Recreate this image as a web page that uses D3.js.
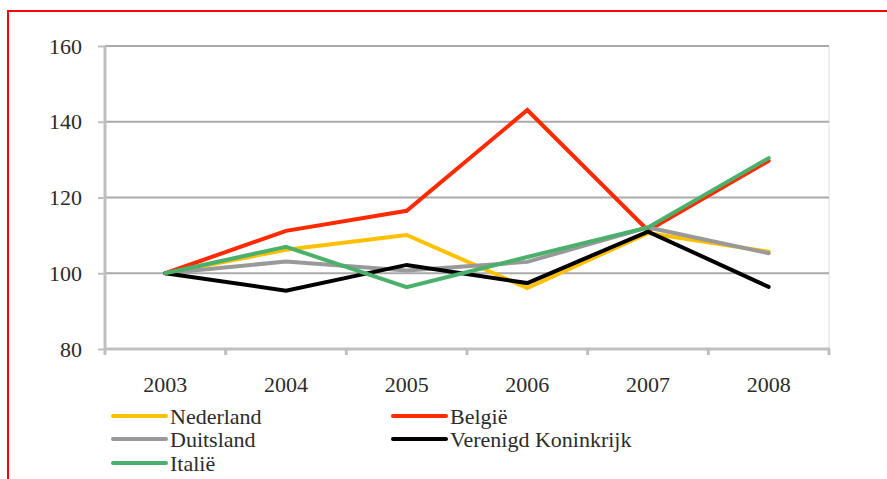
<!DOCTYPE html>
<html>
<head>
<meta charset="utf-8">
<script src="https://cdn.jsdelivr.net/npm/d3@7/dist/d3.min.js"></script>
<style>
  body { margin: 0; background: #fff; }
  svg text { font-family: "Liberation Serif", serif; fill: #2b2b2b; }
</style>
</head>
<body>
<svg id="chartSVG" width="887" height="479"></svg>
<script>
// years on the x axis
const years = ["2003", "2004", "2005", "2006", "2007", "2008"];
// y axis ticks
const yTicks = [80, 100, 120, 140, 160];

// index values per country
const nederland = [100, 106.2, 110.1, 96.1, 110.6, 105.7];
const belgie = [100, 111.2, 116.5, 143.1, 111.3, 129.7];
const duitsland = [100, 103.1, 100.7, 103.0, 112.1, 105.3];
const verenigdKoninkrijk = [100, 95.4, 102.2, 97.4, 111.0, 96.4];
const italie = [100, 107.0, 96.3, 104.3, 112.1, 130.4];

const seriesNames = ["Nederland", "België", "Duitsland", "Verenigd Koninkrijk", "Italië"];
const seriesColors = ["#ffc000", "#ff2a00", "#999999", "#000000", "#4bb06b"];
const seriesValues = [nederland, belgie, duitsland, verenigdKoninkrijk, italie];

// plot area
const plot = { left: 105, right: 829, top: 46, bottom: 349 };
const fontSize = 22;

const svg = d3.select("#chartSVG");

// red frame around the picture (only top and left fall inside)
svg.append("rect")
  .attr("x", 8).attr("y", 11)
  .attr("width", 1000).attr("height", 1000)
  .attr("fill", "none")
  .attr("stroke", "#ff0000")
  .attr("stroke-width", 2);

const x = d3.scaleBand().domain(years).range([plot.left, plot.right]);
const y = d3.scaleLinear().domain([80, 160]).range([plot.bottom, plot.top]);

// right edge of the plot area
svg.append("line")
  .attr("x1", plot.right).attr("x2", plot.right)
  .attr("y1", plot.top).attr("y2", plot.bottom)
  .attr("stroke", "#d9d9d9").attr("stroke-width", 1);

// horizontal gridlines
svg.append("g")
  .selectAll("line")
  .data(yTicks.filter(d => d !== 80))
  .join("line")
  .attr("x1", plot.left).attr("x2", plot.right)
  .attr("y1", d => y(d)).attr("y2", d => y(d))
  .attr("stroke", "#aaaaaa").attr("stroke-width", 2);

// y axis
const yAxis = d3.axisLeft(y).tickValues(yTicks).tickSize(7).tickPadding(16);
const yAxisGroup = svg.append("g")
  .attr("transform", `translate(${plot.left},0)`)
  .call(yAxis);
yAxisGroup.select(".domain").remove();
yAxisGroup.selectAll(".tick line").attr("stroke", "#bfbfbf").attr("stroke-width", 2);
yAxisGroup.selectAll(".tick text")
  .attr("font-size", fontSize)
  .style("font-family", "Liberation Serif")
  .attr("fill", "#2b2b2b");
svg.append("line")
  .attr("x1", plot.left).attr("x2", plot.left)
  .attr("y1", plot.top).attr("y2", plot.bottom + 1)
  .attr("stroke", "#bfbfbf").attr("stroke-width", 3);

// x axis
svg.append("line")
  .attr("x1", plot.left).attr("x2", plot.right + 1)
  .attr("y1", plot.bottom).attr("y2", plot.bottom)
  .attr("stroke", "#bfbfbf").attr("stroke-width", 3);
const boundaries = years.map(d => x(d)).concat([plot.right]);
svg.append("g")
  .selectAll("line")
  .data(boundaries)
  .join("line")
  .attr("x1", d => d).attr("x2", d => d)
  .attr("y1", plot.bottom).attr("y2", plot.bottom + 6)
  .attr("stroke", "#bfbfbf").attr("stroke-width", 3);
svg.append("g")
  .selectAll("text")
  .data(years)
  .join("text")
  .attr("x", d => x(d) + x.bandwidth() / 2)
  .attr("y", 392)
  .attr("text-anchor", "middle")
  .attr("font-size", fontSize)
  .text(d => d);

// lines
const line = d3.line()
  .x((d, i) => x(years[i]) + x.bandwidth() / 2)
  .y(d => y(d));

svg.append("g")
  .selectAll("path")
  .data(seriesValues)
  .join("path")
  .attr("d", d => line(d))
  .attr("fill", "none")
  .attr("stroke", (d, i) => seriesColors[i])
  .attr("stroke-width", 4)
  .attr("stroke-linejoin", "miter")
  .attr("stroke-linecap", "round");

// legend, two columns
const legendPos = [
  { x: 113, y: 416 }, { x: 393, y: 416 },
  { x: 113, y: 439 }, { x: 393, y: 439 },
  { x: 113, y: 463 }
];
const legend = svg.append("g")
  .selectAll("g")
  .data(seriesNames)
  .join("g")
  .attr("transform", (d, i) => `translate(${legendPos[i].x},${legendPos[i].y})`);
legend.append("line")
  .attr("x1", 0).attr("x2", 53)
  .attr("stroke", (d, i) => seriesColors[i])
  .attr("stroke-width", 4)
  .attr("stroke-linecap", "round");
legend.append("text")
  .attr("x", 57)
  .attr("y", 8)
  .attr("font-size", fontSize)
  .text(d => d);
</script>
</body>
</html>
